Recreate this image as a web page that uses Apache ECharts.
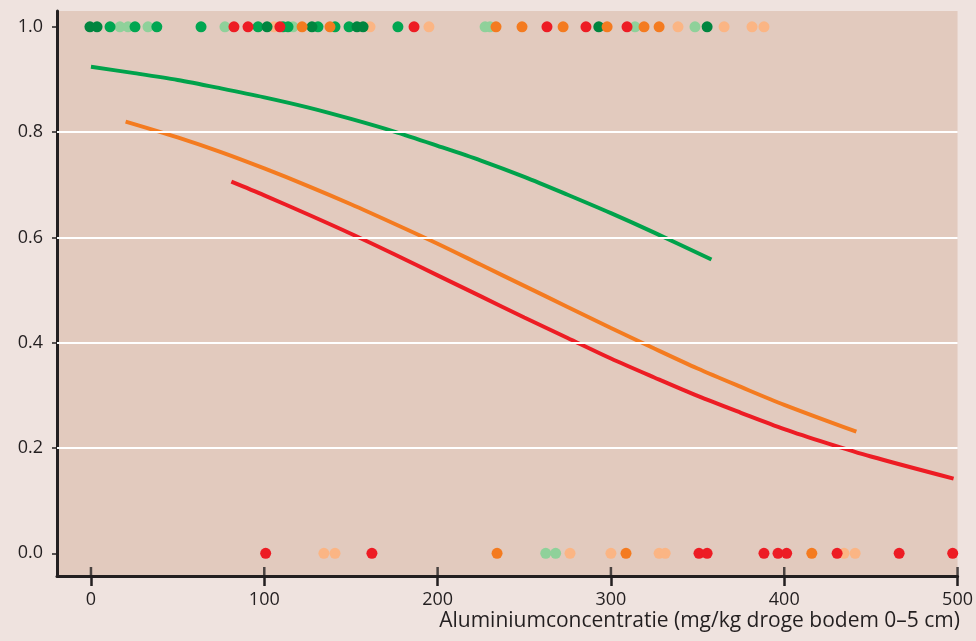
<!DOCTYPE html>
<html><head><meta charset="utf-8">
<script src="https://cdn.jsdelivr.net/npm/echarts@6/dist/echarts.min.js"></script>
<style>html,body{margin:0;padding:0;background:#efe3df;}#c{width:976px;height:641px;}</style>
</head><body><div id="c"></div>
<script>
// tick labels
const xTicks = [0, 100, 200, 300, 400, 500];
const yTicks = [0, 0.2, 0.4, 0.6, 0.8, 1.0];
const gridValues = [0.2, 0.4, 0.6, 0.8];
const xMin = -19.6, xMax = 500, yMin = -0.043, yMax = 1.03;
const xTitle = 'Aluminiumconcentratie (mg/kg droge bodem 0–5 cm)';

// observations: x positions for y = 1 (present) and y = 0 (absent), per colour group
const darkGreenTop = [-0.6, 3.5, 101.6, 127.5, 153.5, 157, 293, 355.5];
const greenTop = [11, 25.4, 38, 63.5, 96.4, 110.8, 113.7, 131, 140.8, 148.9, 177.1];
const lightGreenTop = [16.7, 21.4, 32.9, 77.3, 116.6, 227.4, 230.2, 313.9, 348.5];
const redTop = [82.5, 90.6, 109, 186.4, 263.1, 285.6, 309.3];
const orangeTop = [121.8, 137.9, 233.7, 248.7, 272.4, 297.8, 319.1, 327.8];
const lightOrangeTop = [105.6, 161, 195, 338.7, 365.3, 381.4, 388.3];

const redBottom = [100.8, 162.1, 350.8, 355.5, 388.3, 396.4, 401.4, 430.5, 466.3, 497.2];
const orangeBottom = [234.3, 308.7, 415.9];
const lightOrangeBottom = [134.4, 140.8, 276.4, 300, 327.8, 331.3, 434.5, 440.9];
const lightGreenBottom = [262.4, 268.1];

// fitted curves
const greenCurveX = [0, 25, 50, 75, 100, 125, 150, 175, 200, 225, 250, 275, 300, 325, 358];
const greenCurveY = [0.924, 0.912, 0.899, 0.883, 0.866, 0.847, 0.825, 0.801, 0.774, 0.746, 0.715, 0.681, 0.646, 0.609, 0.558];
const orangeCurveX = [20, 50, 75, 100, 125, 150, 175, 200, 225, 250, 275, 300, 325, 350, 375, 400, 441.6];
const orangeCurveY = [0.820, 0.790, 0.762, 0.731, 0.698, 0.663, 0.626, 0.588, 0.548, 0.508, 0.468, 0.428, 0.389, 0.351, 0.316, 0.282, 0.231];
const redCurveX = [81, 100, 125, 150, 175, 200, 225, 250, 275, 300, 325, 350, 375, 400, 425, 450, 497.7];
const redCurveY = [0.706, 0.680, 0.644, 0.607, 0.568, 0.528, 0.488, 0.448, 0.409, 0.370, 0.334, 0.299, 0.267, 0.236, 0.209, 0.184, 0.142];

const C = {
  darkGreen: '#00853f', green: '#00a651', lightGreen: '#8fd19a',
  red: '#ed1c24', orange: '#f47b20', lightOrange: '#fbb584',
  lineGreen: '#00a24b', lineOrange: '#f47b20', lineRed: '#ed1c24', ink: '#231f20'
};
const FONT = '"Open Sans", Lato, sans-serif';

function pts(xs, y) { return xs.map(x => [x, y]); }
function zip(xs, ys) { return xs.map((x, i) => [x, ys[i]]); }
function dots(data, color, z) {
  return { type: 'scatter', data, symbolSize: 11, itemStyle: { color, opacity: 1 }, z: z || 3, silent: true };
}
function curve(xs, ys, color) {
  return { type: 'line', data: zip(xs, ys), smooth: 0.3, showSymbol: false, lineStyle: { color, width: 4 }, z: 4, silent: true };
}

const chart = echarts.init(document.getElementById('c'));
chart.setOption({
  backgroundColor: '#efe3df',
  animation: false,
  grid: { left: 57, right: 18, top: 11, bottom: 65, show: true, backgroundColor: '#e2cabe', borderWidth: 0 },
  xAxis: {
    type: 'value', min: xMin, max: xMax,
    axisLine: { show: true, onZero: false, lineStyle: { color: C.ink, width: 3 } },
    axisTick: { show: true, customValues: xTicks, length: 10, lineStyle: { color: C.ink, width: 2.5 } },
    axisLabel: { customValues: xTicks, color: C.ink, fontSize: 18, fontFamily: FONT, margin: 15 },
    splitLine: { show: false }
  },
  yAxis: {
    type: 'value', min: yMin, max: yMax,
    axisLine: { show: true, onZero: false, lineStyle: { color: C.ink, width: 3 } },
    axisTick: { show: true, customValues: yTicks, length: 5, lineStyle: { color: C.ink, width: 1.5 } },
    axisLabel: { customValues: yTicks, color: C.ink, fontSize: 18, fontFamily: FONT, margin: 14, formatter: v => v.toFixed(1) },
    splitLine: { show: false }
  },
  graphic: [{
    type: 'text', right: 16, top: 611,
    style: { text: xTitle, fill: C.ink, font: '21px ' + FONT, textAlign: 'right' }
  }],
  series: [
    {
      type: 'line', data: [], silent: true,
      markLine: { silent: true, symbol: 'none', label: { show: false }, lineStyle: { color: '#ffffff', width: 2, type: 'solid' },
        data: gridValues.map(v => ({ yAxis: v })) }, z: 1
    },
    // inner part of the x-axis ticks (ticks cross the axis line)
    {
      type: 'scatter', data: pts(xTicks, yMin), symbol: 'rect', symbolSize: [2.5, 9], symbolOffset: [0, -4.5],
      itemStyle: { color: C.ink }, z: 6, silent: true, clip: false
    },
    dots(pts(lightGreenTop, 1), C.lightGreen),
    dots(pts(lightOrangeTop, 1), C.lightOrange),
    dots(pts(greenTop, 1), C.green),
    dots(pts(darkGreenTop, 1), C.darkGreen),
    dots(pts(orangeTop, 1), C.orange),
    dots(pts(redTop, 1), C.red),
    dots(pts(lightGreenBottom, 0), C.lightGreen),
    dots(pts(lightOrangeBottom, 0), C.lightOrange),
    dots(pts(orangeBottom, 0), C.orange),
    dots(pts(redBottom, 0), C.red),
    curve(greenCurveX, greenCurveY, C.lineGreen),
    curve(orangeCurveX, orangeCurveY, C.lineOrange),
    curve(redCurveX, redCurveY, C.lineRed)
  ]
});
</script></body></html>
